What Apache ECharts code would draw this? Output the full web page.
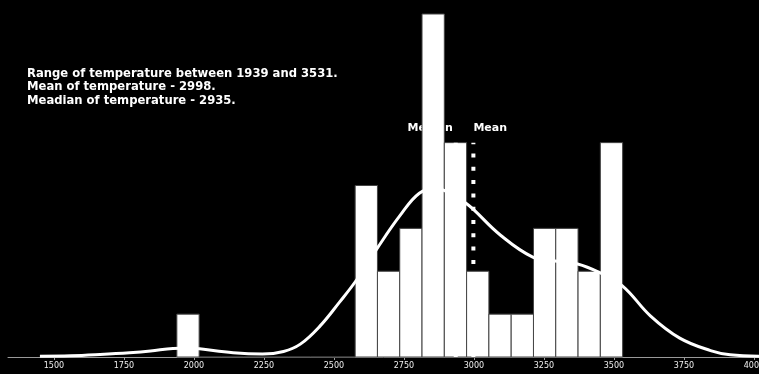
<!DOCTYPE html>
<html>
<head>
<meta charset="utf-8">
<script src="https://cdn.jsdelivr.net/npm/echarts@6/dist/echarts.min.js"></script>
<style>
  html, body { margin: 0; padding: 0; background: #000; }
  #chart { width: 759px; height: 374px; }
</style>
</head>
<body>
<div id="chart"></div>
<script>
// Temperature sample summary
const tempMin = 1939;
const tempMax = 3531;
const tempMean = 2998;
const tempMedian = 2935;

// Histogram: 20 equal bins spanning tempMin..tempMax
const binCount = 20;
const binCounts = [1, 0, 0, 0, 0, 0, 0, 0, 4, 2, 3, 8, 5, 2, 1, 1, 3, 3, 2, 5];

// Kernel density estimate, scaled to counts
const kdeX = [1450, 1560, 1665, 1770, 1845, 1925, 1985, 2020, 2140, 2245, 2320, 2380, 2450, 2520, 2580, 2655, 2735, 2805, 2865, 2925, 2975, 3000, 3095, 3210, 3290, 3370, 3445, 3530, 3630, 3735, 3845, 3915, 4020];
const kdeY = [0.02, 0.03, 0.06, 0.10, 0.14, 0.20, 0.21, 0.19, 0.10, 0.07, 0.13, 0.30, 0.72, 1.28, 1.79, 2.54, 3.29, 3.82, 3.93, 3.78, 3.57, 3.43, 2.84, 2.33, 2.24, 2.17, 1.98, 1.66, 0.96, 0.44, 0.15, 0.05, 0.02];

// X axis tick labels
const xTicks = [1500, 1750, 2000, 2250, 2500, 2750, 3000, 3250, 3500, 3750, 4000];

const binWidth = (tempMax - tempMin) / binCount;
const histData = binCounts.map((c, i) => [tempMin + i * binWidth, tempMin + (i + 1) * binWidth, c]);
const kdeData = kdeX.map((x, i) => [x, kdeY[i]]);

const labelStyle = { color: '#fff', fontFamily: 'DejaVu Sans', fontWeight: 'bold', fontSize: 11 };

const chart = echarts.init(document.getElementById('chart'));
chart.setOption({
  backgroundColor: '#000',
  animation: false,
  grid: { left: 8, right: 0, top: 14, bottom: 17, containLabel: false, outerBoundsMode: 'none' },
  xAxis: {
    type: 'value',
    min: 1336,
    max: 4018,
    axisLine: { show: true, lineStyle: { color: '#999', width: 1 } },
    axisTick: { show: true, length: 3, lineStyle: { color: '#999' }, customValues: xTicks },
    axisLabel: {
      color: '#eee', fontSize: 8, fontFamily: 'DejaVu Sans', margin: 5,
      customValues: xTicks,
      formatter: v => String(v)
    },
    splitLine: { show: false }
  },
  yAxis: {
    type: 'value', min: 0, max: 8,
    show: false,
    splitLine: { show: false }
  },
  graphic: [{
    type: 'text',
    left: 27, top: 67,
    z: 10,
    style: {
      text: 'Range of temperature between ' + tempMin + ' and ' + tempMax + '.\n' +
            'Mean of temperature - ' + tempMean + '.\n' +
            'Meadian of temperature - ' + tempMedian + '.',
      fill: '#fff',
      font: 'bold 11.6px "DejaVu Sans"',
      lineHeight: 13.5
    }
  }],
  series: [
    {
      // line labels, placed beneath the bars
      type: 'scatter',
      z: 1,
      symbolSize: 0,
      silent: true,
      itemStyle: { opacity: 1 },
      data: [
        { value: [tempMedian, 5.34], label: Object.assign({ show: true, position: 'left', distance: 3, formatter: 'Median' }, labelStyle) },
        { value: [tempMean, 5.34], label: Object.assign({ show: true, position: 'right', distance: 0, formatter: 'Mean' }, labelStyle) }
      ],
      label: labelStyle
    },
    {
      type: 'custom',
      z: 2,
      data: histData,
      renderItem: function (params, api) {
        const p0 = api.coord([api.value(0), api.value(2)]);
        const p1 = api.coord([api.value(1), 0]);
        return {
          type: 'rect',
          shape: { x: p0[0], y: p0[1], width: p1[0] - p0[0], height: p1[1] - p0[1] },
          style: { fill: '#fff', stroke: '#444', lineWidth: 1 }
        };
      }
    },
    {
      type: 'line',
      z: 3,
      data: kdeData,
      smooth: 0.4,
      showSymbol: false,
      lineStyle: { color: '#fff', width: 3 }
    },
    {
      type: 'line',
      z: 4,
      data: [[tempMedian, 0], [tempMedian, 5]],
      showSymbol: false,
      lineStyle: { color: '#fff', width: 4, type: [4, 9.3], cap: 'butt' }
    },
    {
      type: 'line',
      z: 4,
      data: [[tempMean, 0], [tempMean, 5]],
      showSymbol: false,
      lineStyle: { color: '#fff', width: 4, type: [4, 9.3], cap: 'butt' }
    }
  ]
});
</script>
</body>
</html>
